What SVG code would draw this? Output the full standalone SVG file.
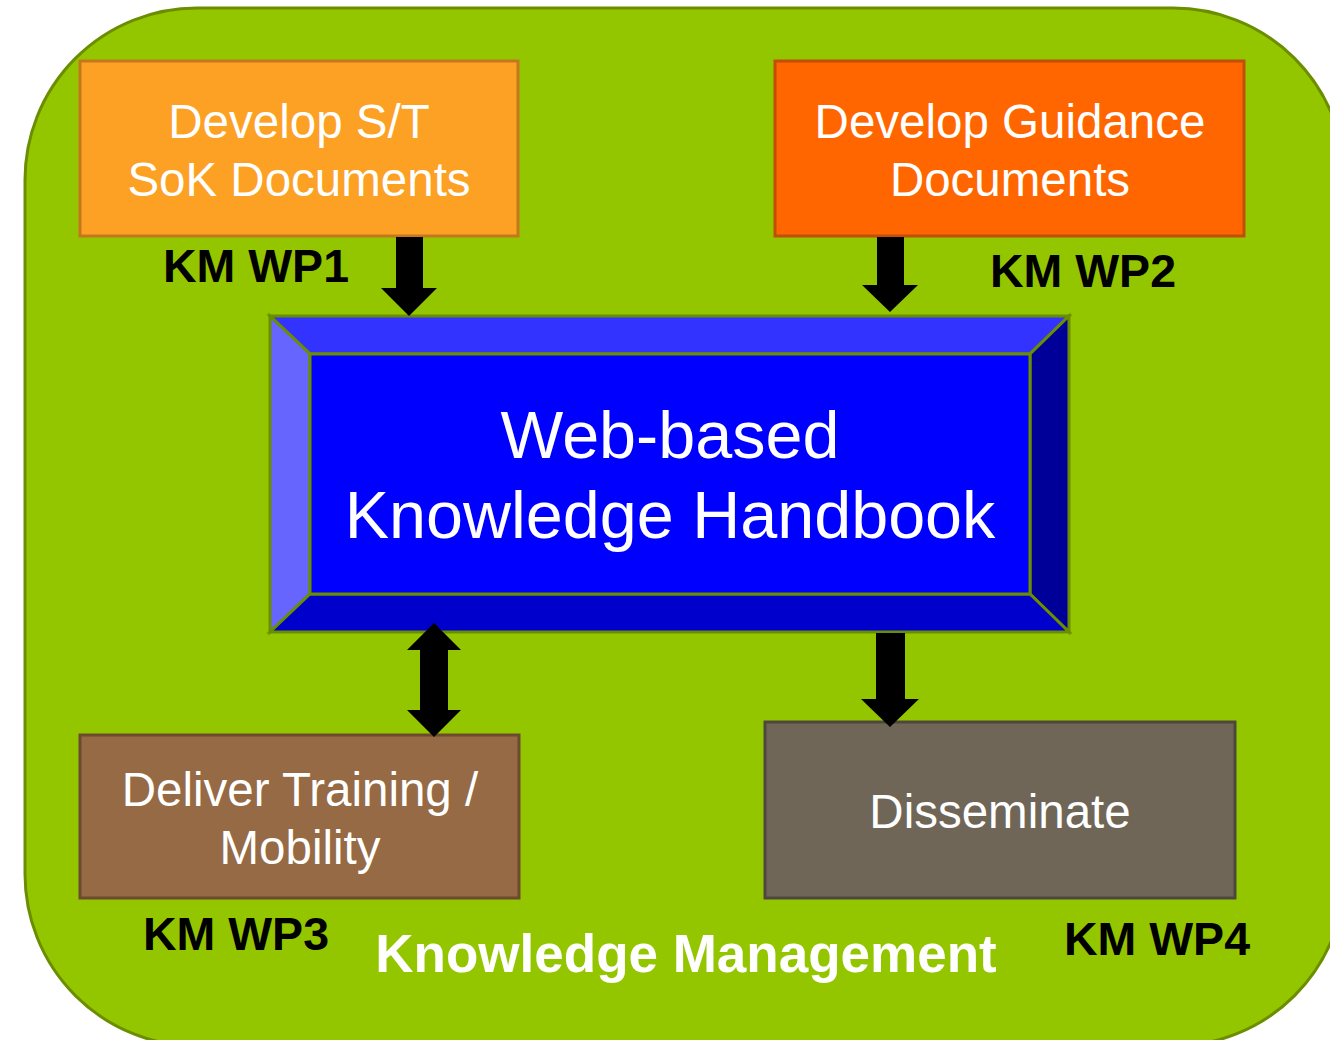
<svg xmlns="http://www.w3.org/2000/svg" width="1330" height="1040" viewBox="0 0 1330 1040">
<style>
.box{stroke-width:3}
.t{font-family:"Liberation Sans",Arial,sans-serif;fill:#fff;text-anchor:middle}
.lbl{font-family:"Liberation Sans",Arial,sans-serif;font-weight:bold;font-size:46.5px;fill:#000}
.bev{stroke:#6b8e00;stroke-width:3;stroke-linejoin:miter}
.arr{fill:#000}
</style>
<rect width="1330" height="1040" fill="#fff"/>
<g id="background">
<rect x="25" y="8" width="1320" height="1038" rx="172" ry="172" fill="#94c600" stroke="#6b8e00" stroke-width="3"/>
<text x="686" y="972" font-family="Liberation Sans, Arial, sans-serif" font-weight="bold" font-size="53" fill="#fff" text-anchor="middle">Knowledge Management</text>
</g>
<g id="wp1">
<rect class="box" x="80" y="61" width="438" height="175" fill="#fca124" stroke="#c5771d"/>
<text class="t" x="299" y="138" font-size="47.5">Develop S/T</text>
<text class="t" x="299" y="196" font-size="47.5">SoK Documents</text>
<text class="lbl" x="163" y="282">KM WP1</text>
</g>
<g id="wp2">
<rect class="box" x="775" y="61" width="469" height="175" fill="#ff6600" stroke="#c24e0c"/>
<text class="t" x="1010" y="138" font-size="47.5">Develop Guidance</text>
<text class="t" x="1010" y="196" font-size="47.5">Documents</text>
<text class="lbl" x="990" y="287">KM WP2</text>
</g>
<g id="handbook">
<polygon class="bev" points="270,316 1069,316 1030,354 310,354" fill="#3333ff"/>
<polygon class="bev" points="270,316 310,354 310,594 270,632" fill="#6666ff"/>
<polygon class="bev" points="1069,316 1069,632 1030,594 1030,354" fill="#000099"/>
<polygon class="bev" points="270,632 310,594 1030,594 1069,632" fill="#0000cc"/>
<rect class="bev" x="310" y="354" width="720" height="240" fill="#0000ff"/>
<text class="t" x="670" y="458" font-size="66.5">Web-based</text>
<text class="t" x="670" y="538" font-size="66.5">Knowledge Handbook</text>
</g>
<g id="wp3">
<rect class="box" x="80" y="735" width="439" height="163" fill="#956a44" stroke="#6b4a2e"/>
<text class="t" x="300" y="806" font-size="47.5">Deliver Training /</text>
<text class="t" x="300" y="864" font-size="47.5">Mobility</text>
<text class="lbl" x="143" y="950">KM WP3</text>
</g>
<g id="wp4">
<rect class="box" x="765" y="722" width="470" height="176" fill="#706657" stroke="#4f473e"/>
<text class="t" x="1000" y="828" font-size="47.5">Disseminate</text>
<text class="lbl" x="1064" y="955">KM WP4</text>
</g>
<g id="connectors">
<polygon class="arr" points="396,237 423,237 423,288 437,288 409,316 381,288 396,288"/>
<polygon class="arr" points="877,237 904,237 904,285 918,285 890,312 862,285 877,285"/>
<polygon class="arr" points="434,623 461,650 448,650 448,710 461,710 434,737 407,710 420,710 420,650 407,650"/>
<polygon class="arr" points="876,633 905,633 905,699 919,699 890,727 861,699 876,699"/>
</g>
</svg>
